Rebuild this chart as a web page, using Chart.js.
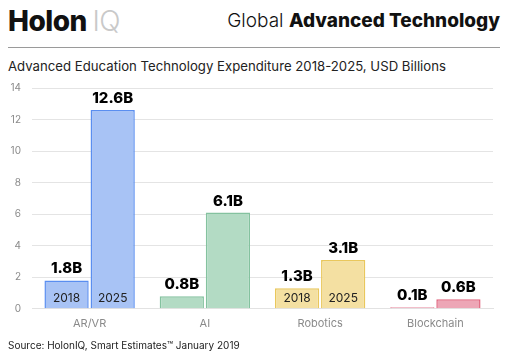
<!DOCTYPE html>
<html><head><meta charset="utf-8">
<script src="https://cdn.jsdelivr.net/npm/chart.js@4"></script>
<style>
html,body{margin:0;padding:0;background:#fff;}
#wrap{position:relative;width:517px;height:356px;overflow:hidden;font-family:Inter,"Open Sans",sans-serif;}
#c{position:absolute;left:0;top:0;}
.t{position:absolute;white-space:nowrap;color:#111;}
#logo{left:8px;top:4px;font-size:28px;font-weight:800;letter-spacing:-0.5px;}
#logo span{color:#c9c9c9;font-weight:300;}
#head{right:17px;top:9px;font-size:19px;font-weight:300;}
#head b{font-weight:800;}
#rule{position:absolute;left:8px;top:47px;width:492px;height:1px;background:#9a9a9a;}
#sub{left:8px;top:58px;font-size:13.2px;color:#222;}
#src{left:8px;top:339px;font-size:10px;color:#222;}
</style></head>
<body><div id="wrap">
<div class="t" id="logo">Holon <span>IQ</span></div>
<div class="t" id="head">Global <b>Advanced Technology</b></div>
<div id="rule"></div>
<div class="t" id="sub">Advanced Education Technology Expenditure 2018-2025, USD Billions</div>
<canvas id="c" width="517" height="356"></canvas>
<div class="t" id="src">Source: HolonIQ, Smart Estimates™ January 2019</div>
</div>
<script>
const categories = ["AR/VR", "AI", "Robotics", "Blockchain"];
const years = ["2018", "2025"];
const values2018 = [1.8, 0.8, 1.3, 0.1];
const values2025 = [12.6, 6.1, 3.1, 0.6];
const valueLabels2018 = ["1.8B", "0.8B", "1.3B", "0.1B"];
const valueLabels2025 = ["12.6B", "6.1B", "3.1B", "0.6B"];
const yearLabelShown = [true, false, true, false];
const fills = ["#a8c3f5", "#b3dbc4", "#f4e0a2", "#eda6b6"];
const borders = ["#5a8ef0", "#84c29f", "#e9c75c", "#e0657f"];

const labelPlugin = {
  id: "valLabels",
  afterDatasetsDraw(chart) {
    const ctx = chart.ctx;
    const sets = [valueLabels2018, valueLabels2025];
    ctx.save();
    chart.data.datasets.forEach((ds, di) => {
      const meta = chart.getDatasetMeta(di);
      meta.data.forEach((bar, i) => {
        ctx.fillStyle = "#000";
        ctx.font = "800 15px Inter, sans-serif";
        ctx.textAlign = "center";
        ctx.textBaseline = "alphabetic";
        ctx.fillText(sets[di][i], bar.x, bar.y - 7);
        if (yearLabelShown[i]) {
          ctx.font = "400 12px Inter, sans-serif";
          ctx.fillStyle = "#222";
          ctx.textBaseline = "middle";
          ctx.fillText(years[di], bar.x, bar.base - 10);
        }
      });
    });
    ctx.restore();
  }
};

new Chart(document.getElementById("c"), {
  type: "bar",
  data: {
    labels: categories,
    datasets: [
      { label: years[0], data: values2018, backgroundColor: fills, borderColor: borders, borderWidth: {top:1.5,left:1.5,right:1.5,bottom:0} },
      { label: years[1], data: values2025, backgroundColor: fills, borderColor: borders, borderWidth: {top:1.5,left:1.5,right:1.5,bottom:0} }
    ]
  },
  options: {
    responsive: false,
    animation: false,
    devicePixelRatio: 1,
    layout: { padding: { top: 88, right: 24, left: 0, bottom: 26 } },
    plugins: { legend: { display: false }, tooltip: { enabled: false } },
    datasets: { bar: { categoryPercentage: 0.8, barPercentage: 0.96 } },
    scales: {
      x: {
        grid: { display: false },
        border: { display: true, color: "#e2e2e2" },
        ticks: { color: "#8a8a8a", font: { family: "Inter", size: 11 }, padding: 0 }
      },
      y: {
        min: 0, max: 14,
        afterFit(s) { s.width = 32; },
        grid: { color: "#e4e4e4", drawTicks: false },
        border: { display: false },
        ticks: { stepSize: 2, color: "#8a8a8a", font: { family: "Inter", size: 10 }, padding: 11 }
      }
    }
  },
  plugins: [labelPlugin]
});
</script>
</body></html>
